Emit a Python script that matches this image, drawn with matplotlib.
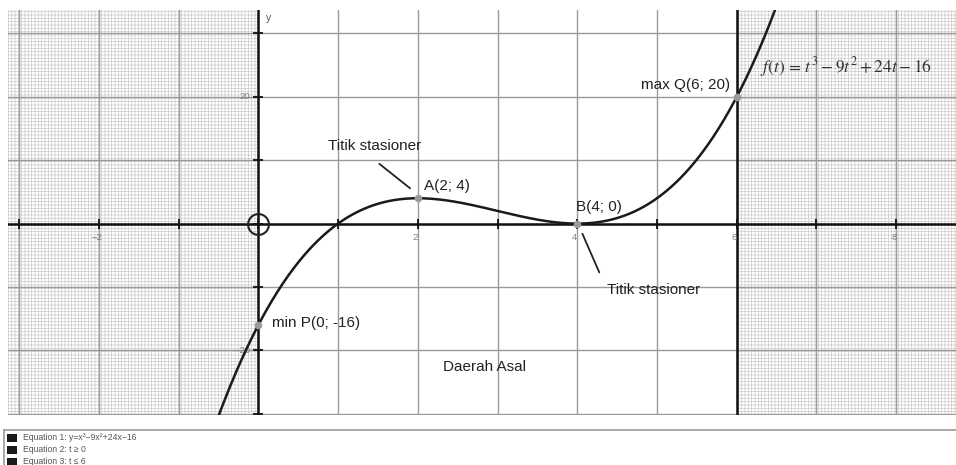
import numpy as np
import matplotlib
matplotlib.use("Agg")
import matplotlib.pyplot as plt
from matplotlib.patches import Rectangle
from matplotlib.lines import Line2D

# ---- data ----
coeffs = [1, -9, 24, -16]            # f(t) = t^3 - 9t^2 + 24t - 16
domain = [0, 6]                      # Daerah Asal
x_tick_labels = [-2, 2, 4, 6, 8]
y_tick_labels = [20, -20]
point_x = [2, 4, 0, 6]
point_y = [4, 0, -16, 20]
point_names = ["A(2; 4)", "B(4; 0)", "min P(0; -16)", "max Q(6; 20)"]
legend_items = ["Equation 1: y=x³−9x²+24x−16", "Equation 2: t ≥ 0", "Equation 3: t ≤ 6"]

plt.rcParams['font.family'] = ['Liberation Sans', 'DejaVu Sans']
plt.rcParams['mathtext.fontset'] = 'stix'
plt.rcParams['hatch.linewidth'] = 0.5

W, H = 956, 465
fig = plt.figure(figsize=(W / 100, H / 100), dpi=100)
ax = fig.add_axes([8 / W, 50 / H, 948 / W, 405 / H])
xmin, xmax = -3.14, 8.75
ymin, ymax = -30.2, 33.7
ax.set_xlim(xmin, xmax)
ax.set_ylim(ymin, ymax)
ax.axis('off')

# shaded regions outside the domain
ax.axvspan(xmin, domain[0], facecolor='white', edgecolor='#cccccc', hatch='+++++', linewidth=0, zorder=0)
ax.axvspan(domain[1], xmax, facecolor='white', edgecolor='#cccccc', hatch='+++++', linewidth=0, zorder=0)

# major grid
for gx in range(-3, 9):
    ax.axvline(gx, color='#9a9a9a', lw=1.0, zorder=1)
for gy in range(-30, 40, 10):
    ax.axhline(gy, color='#9a9a9a', lw=1.0, zorder=1)

# axes and boundary
ax.axhline(0, color='#111111', lw=1.8, zorder=3)
ax.axvline(domain[0], color='#111111', lw=1.8, zorder=3)
ax.axvline(domain[1], color='#111111', lw=1.8, zorder=3)

# tick marks
xt = np.arange(-3, 9)
ax.plot(xt, np.zeros_like(xt), ls='none', marker='|', ms=7, mew=1.3, color='#111111', zorder=4)
yt = np.arange(-30, 40, 10)
ax.plot(np.zeros_like(yt), yt, ls='none', marker='_', ms=7, mew=1.3, color='#111111', zorder=4)

for v in x_tick_labels:
    ax.text(v - 0.03, -1.5, str(v).replace('-', '−'), fontsize=6.8, color='#808080', ha='center', va='top', zorder=5)
for v in y_tick_labels:
    ax.text(-0.1, v, str(v).replace('-', '−'), fontsize=6.8, color='#808080', ha='right', va='center', zorder=5)
ax.text(0.1, 33.2, 'y', fontsize=7.5, color='#555555', ha='left', va='top', zorder=5)

# origin circle
ax.plot([0], [0], marker='o', ms=15, mfc='none', mec='#222222', mew=1.5, zorder=6)

# curve
xs = np.linspace(-0.7, 6.8, 800)
ys = np.polyval(coeffs, xs)
ax.plot(xs, ys, color='#1a1a1a', lw=1.8, zorder=5)

# points
ax.plot(point_x, point_y, ls='none', marker='o', ms=4.5, color='#9a9a9a', zorder=6)

tc = '#222222'
fs = 11
ax.text(2.08, 5.9, point_names[0], fontsize=fs, color=tc, ha='left', va='center', zorder=7)
ax.text(3.99, 2.6, point_names[1], fontsize=fs, color=tc, ha='left', va='center', zorder=7)
ax.text(0.17, -15.7, point_names[2], fontsize=fs, color=tc, ha='left', va='center', zorder=7)
ax.text(5.92, 21.8, point_names[3], fontsize=fs, color=tc, ha='right', va='center', zorder=7)
ax.text(1.464, 12.2, 'Titik stasioner', fontsize=fs, color=tc, ha='center', va='center', zorder=7)
ax.text(4.37, -10.5, 'Titik stasioner', fontsize=fs, color=tc, ha='left', va='center', zorder=7)
ax.text(2.32, -22.6, 'Daerah Asal', fontsize=fs, color=tc, ha='left', va='center', zorder=7)
ax.annotate('', xy=(1.93, 5.3), xytext=(1.49, 9.7),
            arrowprops=dict(arrowstyle='-', color='#222222', lw=1.3), zorder=7)
ax.annotate('', xy=(4.05, -1.2), xytext=(4.29, -8.1),
            arrowprops=dict(arrowstyle='-', color='#222222', lw=1.3), zorder=7)
ax.text(6.29, 24.7, r'$f(t)\, =\, t^3 - 9t^2 + 24t - 16$', fontsize=12.5, color='#333333',
        ha='left', va='center', zorder=7)

# legend panel
fig.add_artist(Line2D([4 / W, 1], [1 - 430 / H, 1 - 430 / H], color='#999999', lw=1.2))
fig.add_artist(Line2D([4 / W, 4 / W], [0, 1 - 430 / H], color='#999999', lw=1.2))
for i, lab in enumerate(legend_items):
    yc = 437.5 + i * 12.2
    fig.add_artist(Rectangle((7 / W, 1 - (yc + 4) / H), 10 / W, 8 / H, transform=fig.transFigure,
                             facecolor='#1a1a1a', edgecolor='none'))
    fig.text(23 / W, 1 - yc / H, lab, fontsize=6.2, color='#555555', ha='left', va='center')

fig.savefig('out.png', dpi=100, facecolor='white')
